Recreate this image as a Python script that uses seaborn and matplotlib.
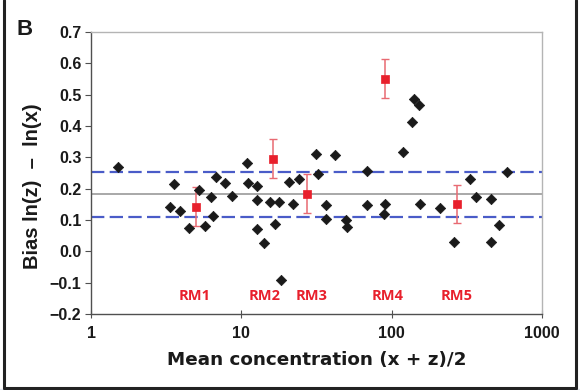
import numpy as np
import pandas as pd
import matplotlib
matplotlib.use("Agg")
import matplotlib.pyplot as plt
from matplotlib.lines import Line2D
import seaborn as sns

# ---- data ----
conc = [1.51, 3.34, 3.58, 3.91, 4.51, 5.23, 5.74, 6.31, 6.51, 6.76, 7.83, 8.63,
        10.9, 11.0, 12.7, 12.8, 12.8, 14.2, 15.4, 16.8, 17.9, 18.5, 20.7, 22.2,
        24.2, 31.3, 32.4, 36.6, 36.6, 42.2, 49.7, 50.7, 68.9, 68.8, 90.8, 88.9,
        119.7, 137.4, 141.7, 152.0, 153.7, 209.0, 260.0, 334.0, 362.0, 460.0,
        460.0, 516.0, 583.0]
bias = [0.269, 0.141, 0.214, 0.128, 0.074, 0.195, 0.082, 0.174, 0.113, 0.236,
        0.217, 0.176, 0.283, 0.219, 0.207, 0.163, 0.070, 0.027, 0.157, 0.087,
        0.157, -0.092, 0.221, 0.152, 0.231, 0.310, 0.246, 0.147, 0.102, 0.306,
        0.101, 0.077, 0.255, 0.147, 0.152, 0.118, 0.317, 0.413, 0.486, 0.466,
        0.152, 0.139, 0.029, 0.230, 0.174, 0.167, 0.031, 0.085, 0.252]

rm_names = ["RM1", "RM2", "RM3", "RM4", "RM5"]
rm_conc = [4.97, 16.2, 27.5, 90.8, 272.0]
rm_bias = [0.142, 0.296, 0.184, 0.551, 0.152]
rm_err = [0.062, 0.062, 0.062, 0.063, 0.061]
rm_label_x = [4.9, 14.2, 29.5, 94.6, 272.0]
rm_label_y = -0.143

mean_bias = 0.183
upper_limit = 0.253
lower_limit = 0.110

y_ticks = [-0.2, -0.1, 0.0, 0.1, 0.2, 0.3, 0.4, 0.5, 0.6, 0.7]
x_ticks = [1, 10, 100, 1000]
x_tick_labels = ["1", "10", "100", "1000"]

# ---- figure ----
sns.set_style("white")
plt.rcParams["font.family"] = ["Liberation Sans", "DejaVu Sans"]
fig = plt.figure(figsize=(5.8, 3.9), dpi=100)
ax = fig.add_axes([91/580, 1-314/390, (542-91)/580, (314-32)/390])

df = pd.DataFrame({"conc": conc, "bias": bias})
rm = pd.DataFrame({"conc": rm_conc, "bias": rm_bias, "err": rm_err, "name": rm_names})

ax.axhline(mean_bias, color="#a8a8a8", lw=1.4, zorder=1)
for yv in (upper_limit, lower_limit):
    ax.axhline(yv, color="#4a5cc8", lw=1.6, ls=(0, (6, 2.4)), zorder=1)

sns.scatterplot(data=df, x="conc", y="bias", marker="D", s=28, color="#1a1a1a",
                edgecolor="#1a1a1a", linewidth=0.5, ax=ax, zorder=3)
ax.errorbar(rm["conc"], rm["bias"], yerr=rm["err"], fmt="none", ecolor="#e86a72",
            elinewidth=1.1, capsize=3, capthick=1.0, zorder=2)
sns.scatterplot(data=rm, x="conc", y="bias", marker="s", s=36, color="#e8202c",
                edgecolor="#e8202c", linewidth=0.5, ax=ax, zorder=4)

for name, lx in zip(rm_names, rm_label_x):
    ax.text(lx, rm_label_y, name, color="#e8202c", fontsize=10.5, fontweight="bold",
            ha="center", va="center", family=["Open Sans", "DejaVu Sans"])

ax.set_xscale("log")
ax.set_xlim(1, 1000)
ax.set_ylim(-0.2, 0.7)
ax.set_xticks(x_ticks)
ax.set_xticklabels(x_tick_labels)
ax.xaxis.set_minor_locator(matplotlib.ticker.NullLocator())
ax.set_yticks(y_ticks)
ax.set_yticklabels([f"{v:.1f}".replace("-", "\u2212") for v in y_ticks])

for lab in ax.get_xticklabels():
    lab.set_fontweight("bold"); lab.set_fontsize(11.5); lab.set_color("#1a1a1a")
for lab in ax.get_yticklabels():
    lab.set_fontweight("bold"); lab.set_fontsize(11.5); lab.set_color("#1a1a1a")

ax.tick_params(axis="y", direction="out", length=4, width=0.8, color="#505050", pad=3, left=True)
ax.tick_params(axis="x", direction="inout", length=6, width=0.8, color="#505050", pad=6, bottom=True)

for s in ("left", "bottom"):
    ax.spines[s].set_color("#505050"); ax.spines[s].set_linewidth(1.0)
for s in ("top", "right"):
    ax.spines[s].set_color("#b4b4b4"); ax.spines[s].set_linewidth(1.0)

ax.set_xlabel("Mean concentration (x + z)/2", fontsize=13.2, fontweight="bold",
              family="DejaVu Sans", color="#1a1a1a", labelpad=7)
ax.set_ylabel("Bias ln(z)  \u2013  ln(x)", fontsize=14.5, fontweight="bold",
              color="#1a1a1a")
ax.yaxis.set_label_coords(-(91 - 42) / 451, (314 - 186) / 282)

fig.text(17/580, 1-35/390, "B", fontsize=16, fontweight="bold", color="#1a1a1a",
         ha="left", va="baseline")

# figure frame (left, right, bottom)
W, H = 580, 390
fig.add_artist(Line2D([3.5/W, 3.5/W], [2.5/H, 1.0], color="#222222", lw=2.2, transform=fig.transFigure))
fig.add_artist(Line2D([576/W, 576/W], [2.5/H, 1.0], color="#222222", lw=2.2, transform=fig.transFigure))
fig.add_artist(Line2D([3.5/W, 576/W], [2.5/H, 2.5/H], color="#222222", lw=2.2, transform=fig.transFigure))
fig.add_artist(plt.Rectangle((0, 0), 1, 1.2/H, color="#dfe3ec", transform=fig.transFigure))

fig.savefig("out.png", dpi=100)
